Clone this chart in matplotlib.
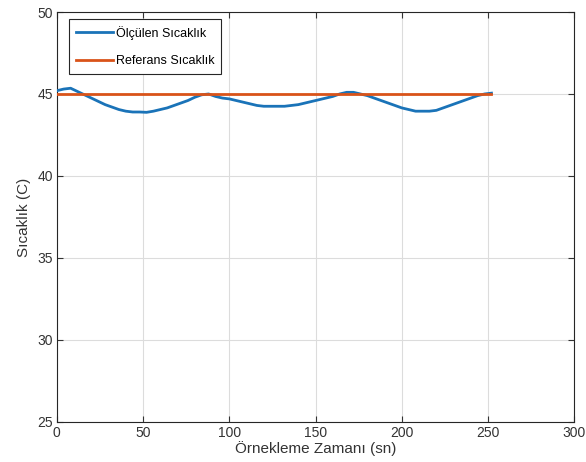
import matplotlib
matplotlib.use("Agg")
import matplotlib.pyplot as plt

plt.rcParams['font.family'] = ['Liberation Sans', 'DejaVu Sans']

time_s = [0, 4, 8, 12, 16, 20, 24, 28, 32, 36, 40, 44, 48, 52, 56, 60, 64, 68, 72, 76,
          80, 84, 88, 92, 96, 100, 104, 108, 112, 116, 120, 124, 128, 132, 136, 140,
          144, 148, 152, 156, 160, 164, 168, 172, 176, 180, 184, 188, 192, 196, 200,
          204, 208, 212, 216, 220, 224, 228, 232, 236, 240, 244, 248, 252]
measured = [45.2, 45.3, 45.35, 45.15, 44.95, 44.75, 44.55, 44.35, 44.2, 44.05, 43.95,
            43.9, 43.9, 43.88, 43.95, 44.05, 44.15, 44.3, 44.45, 44.6, 44.8, 44.95,
            45.0, 44.85, 44.75, 44.7, 44.6, 44.5, 44.4, 44.3, 44.25, 44.25, 44.25,
            44.25, 44.3, 44.35, 44.45, 44.55, 44.65, 44.75, 44.85, 45.0, 45.1, 45.1,
            45.0, 44.9, 44.75, 44.6, 44.45, 44.3, 44.15, 44.05, 43.95, 43.95, 43.95,
            44.0, 44.15, 44.3, 44.45, 44.6, 44.75, 44.9, 45.0, 45.05]
ref_time = [0, 252]
reference = [45, 45]

xticks = [0, 50, 100, 150, 200, 250, 300]
yticks = [25, 30, 35, 40, 45, 50]

fig = plt.figure(figsize=(5.86, 4.62), dpi=100)
ax = fig.add_axes([0.097, 0.087, 0.883, 0.887])

ax.plot(time_s, measured, color='#1a73b8', lw=2, label='Ölçülen Sıcaklık', zorder=3)
ax.plot(ref_time, reference, color='#D95319', lw=2, label='Referans Sıcaklık', zorder=4)

ax.set_xlim(0, 300)
ax.set_ylim(25, 50)
ax.set_xticks(xticks)
ax.set_yticks(yticks)
ax.grid(True, color='#dcdcdc', lw=0.8)
ax.set_axisbelow(True)
ax.tick_params(direction='in', top=True, right=True, labelsize=10,
               colors='#333333', length=4, width=0.8, pad=3)
for s in ax.spines.values():
    s.set_color('#262626')
    s.set_linewidth(0.8)

ax.set_xlabel('Örnekleme Zamanı (sn)', fontsize=11, color='#333333', labelpad=1)
ax.set_ylabel('Sıcaklık (C)', fontsize=11, color='#333333', labelpad=4)

leg = ax.legend(loc='upper left', bbox_to_anchor=(0.023, 0.983), borderaxespad=0,
                fontsize=9, handlelength=3.0, fancybox=False, edgecolor='#262626',
                framealpha=1, borderpad=0.55, labelspacing=1.25, handletextpad=0.2)
leg.get_frame().set_linewidth(0.8)

fig.savefig('out.png', dpi=100)
